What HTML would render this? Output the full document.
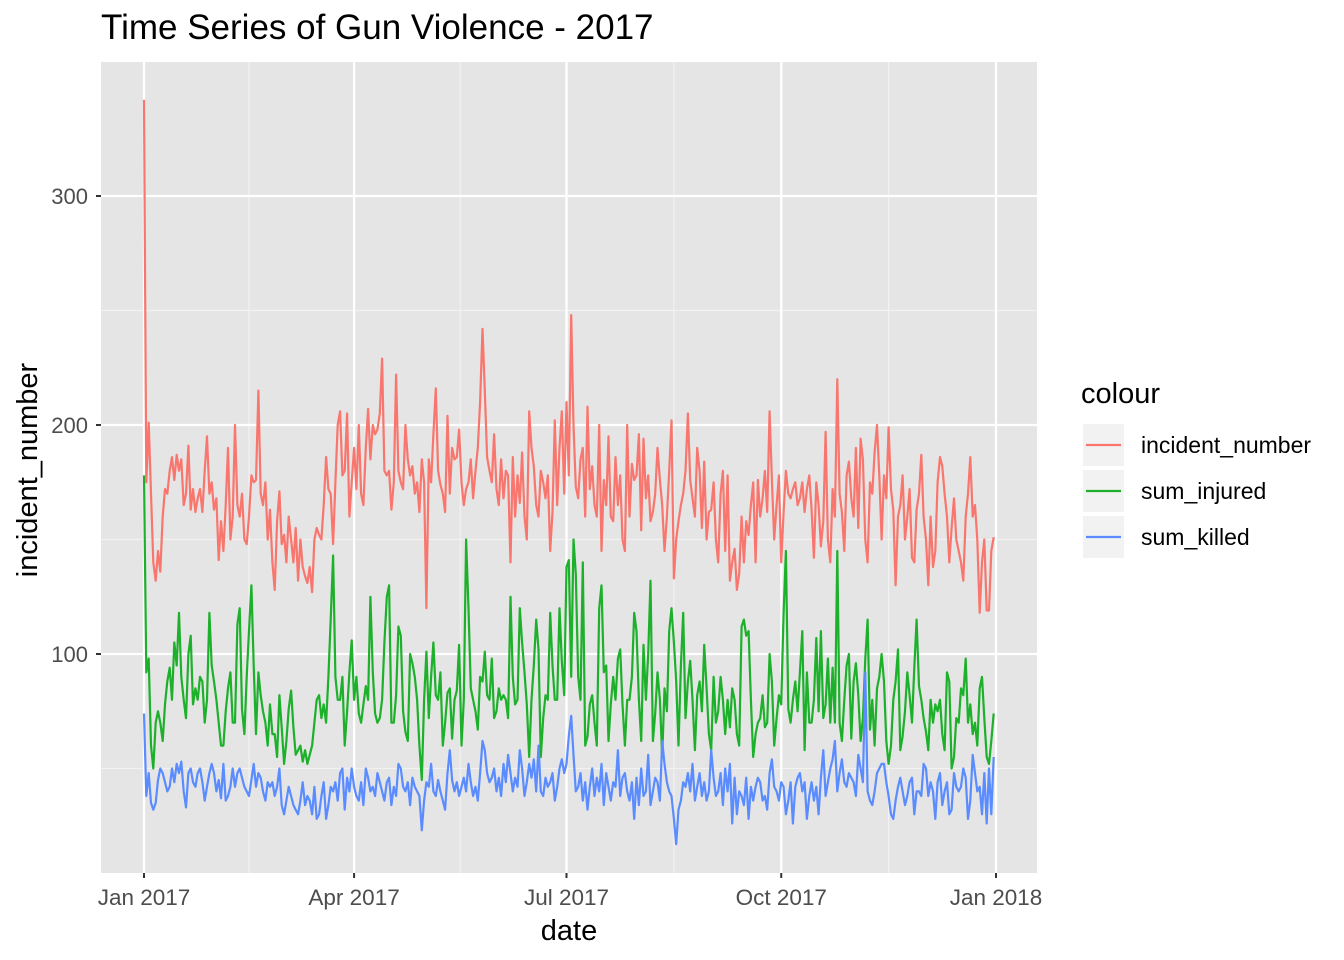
<!DOCTYPE html>
<html><head><meta charset="utf-8"><style>
html,body{margin:0;padding:0;background:#fff;}
svg{display:block;font-family:"Liberation Sans",Arial,sans-serif;}
</style></head><body>
<svg id="chart" width="1344" height="960" viewBox="0 0 1344 960" xmlns="http://www.w3.org/2000/svg">
<text x="101" y="39" font-size="35" fill="#000">Time Series of Gun Violence - 2017</text>
<rect x="101" y="62" width="936" height="811" fill="#e5e5e5"/>
<g id="grid"></g>
<g id="series"></g>
<g id="axes"></g>
<text x="569" y="940" font-size="29" text-anchor="middle" fill="#000">date</text>
<text transform="translate(37,470) rotate(-90)" font-size="29" text-anchor="middle" fill="#000">incident_number</text>
<g id="legend">
<text x="1081" y="403" font-size="29" fill="#000">colour</text>
</g>
</svg>
<script>
const dayStart = 0;
const xTickLabels = ["Jan 2017","Apr 2017","Jul 2017","Oct 2017","Jan 2018"];
const xTickDays = [0,90,181,273,365];
const xMinorDays = [45,135.5,227,319];
const yTicks = [100,200,300];
const yMinor = [50,150,250];
const seriesNames = ["incident_number","sum_injured","sum_killed"];
const seriesColors = ["#F8766D","#1DB02B","#5A8CFF"];
const incident = [342,175,201,170,140,132,145,136,160,172,
170,180,186,176,187,180,185,165,170,191,
163,172,162,168,172,162,180,195,170,175,
163,168,141,158,145,165,190,150,160,200,
165,160,170,150,148,160,178,175,176,215,
170,165,175,150,163,140,128,158,171,148,
152,140,160,150,140,155,132,150,138,134,
131,138,127,150,155,152,150,165,186,172,
170,148,175,200,206,178,180,205,160,175,
190,172,200,170,165,190,207,185,200,196,
198,205,229,180,178,180,163,175,222,180,
175,172,200,185,178,182,170,175,162,185,
175,120,185,175,196,216,180,174,170,162,
204,170,190,185,186,198,175,165,172,175,
185,168,180,190,210,242,215,186,180,175,
196,172,165,185,168,180,178,140,186,160,
178,166,188,160,150,206,190,182,165,160,
180,175,168,178,145,162,202,165,190,206,
170,210,178,248,200,173,168,185,190,160,
208,172,182,165,160,200,145,176,165,195,
160,158,186,165,178,150,145,200,160,183,
176,178,196,154,194,168,178,158,162,170,
190,176,165,145,160,180,202,133,150,158,
165,170,180,205,176,168,160,190,180,155,
184,150,162,163,175,150,140,170,180,145,
178,132,140,146,128,135,160,140,158,152,
165,175,140,176,160,168,180,162,206,176,
150,165,178,140,162,180,170,168,172,175,
165,168,175,162,172,178,163,142,175,165,
147,158,197,150,140,172,160,220,170,162,
145,178,184,168,160,190,155,194,185,150,
140,175,170,188,200,178,150,178,168,199,
172,163,130,160,165,178,150,160,172,142,
140,163,170,187,160,150,130,160,138,145,
175,186,182,170,160,140,155,168,150,145,
140,132,160,170,186,160,165,150,118,140,
150,119,119,145,151];
const injured = [178,92,98,60,50,70,75,70,62,78,
88,94,80,105,95,118,90,80,72,100,
108,78,85,80,90,88,70,80,118,95,
88,80,70,60,60,75,85,92,70,70,
113,120,76,65,90,110,130,95,65,92,
82,75,70,60,78,65,65,55,82,68,
52,62,76,84,68,56,58,60,53,58,
52,56,60,70,80,82,72,78,70,90,
115,143,90,80,80,90,60,75,92,106,
80,90,74,70,78,86,80,125,92,74,
70,72,80,105,125,130,70,70,82,112,
108,75,66,62,100,96,90,80,60,45,
80,101,72,90,105,82,80,92,60,70,
83,85,63,80,84,104,60,80,150,120,
85,80,75,67,90,88,101,82,80,98,
72,75,85,80,82,80,72,125,90,78,
80,120,105,92,78,55,80,95,115,102,
55,72,82,80,118,95,80,80,120,97,
82,138,141,90,150,135,90,80,140,60,
64,78,82,70,60,120,130,92,95,62,
78,90,80,98,102,78,60,80,80,90,
118,110,80,62,104,80,100,132,62,74,
92,80,55,85,75,110,120,105,88,60,
95,118,72,88,97,80,58,82,88,75,
104,85,65,58,90,70,75,90,80,65,
80,68,85,80,65,60,112,115,108,110,
80,55,65,70,72,82,68,70,100,88,
60,72,82,78,118,145,76,70,80,88,
75,92,110,58,92,70,70,80,107,75,
110,72,78,98,70,94,70,145,70,62,
80,95,100,63,88,96,82,62,72,98,
115,67,80,60,85,90,100,88,62,52,
60,80,88,102,58,64,75,92,82,70,
94,115,86,80,72,66,58,80,70,78,
75,80,65,58,92,88,50,55,72,70,
85,82,98,70,78,65,70,60,85,90,
72,55,52,62,74];
const killed = [74,38,48,35,32,35,45,50,48,44,
40,42,50,44,52,48,53,40,33,48,
50,44,42,48,50,44,36,42,48,52,
48,40,45,37,52,36,38,42,50,42,
48,50,46,42,40,38,45,52,42,48,
46,40,36,44,42,44,38,42,50,34,
30,36,42,38,34,32,30,36,44,34,
38,36,30,42,28,30,38,44,28,34,
42,40,44,36,48,50,32,46,40,50,
42,38,36,44,34,50,46,40,42,38,
48,44,40,36,44,46,34,42,38,52,
50,42,40,44,34,46,42,40,38,23,
36,44,42,52,40,38,45,40,36,32,
48,58,45,40,44,38,42,46,40,52,
44,38,42,36,48,62,58,48,44,46,
50,40,46,38,52,44,56,48,40,46,
42,58,50,38,44,52,46,54,40,60,
40,38,46,42,44,48,36,42,50,54,
48,52,64,73,56,40,42,48,36,44,
32,42,50,38,46,40,52,34,48,42,
36,44,42,58,38,46,48,40,36,44,
28,46,34,50,38,40,56,34,40,46,
44,36,62,52,44,40,38,28,17,32,
36,44,42,48,40,52,36,42,48,38,
44,36,40,58,46,38,40,48,34,50,
40,52,26,46,30,40,38,34,46,28,
42,36,42,46,44,36,38,32,48,54,
42,40,36,44,42,30,36,44,26,42,
46,48,40,44,28,38,44,36,42,30,
46,58,38,44,50,54,62,40,48,54,
44,42,48,46,44,38,56,50,44,92,
40,36,34,40,48,50,52,52,44,38,
30,28,36,42,46,40,34,38,44,46,
30,40,40,38,52,50,38,44,40,28,
44,48,34,40,44,30,32,48,42,40,
42,50,46,28,36,56,48,40,42,30,
48,26,50,30,55];

const NS = "http://www.w3.org/2000/svg";
const PX0 = 101, PX1 = 1037, PY0 = 62, PY1 = 873;
function xScale(d){ return 144 + d * (852/365); }
function yScale(v){ return 654 - (v - 100) * 2.29; }
function mk(tag, attrs, parent){
  const e = document.createElementNS(NS, tag);
  for (const k in attrs) e.setAttribute(k, attrs[k]);
  parent.appendChild(e);
  return e;
}
const grid = document.getElementById('grid');
const axes = document.getElementById('axes');
yMinor.forEach(v => {
  const l = mk('line', {x1:PX0, x2:PX1, y1:yScale(v), y2:yScale(v), stroke:'#f2f2f2', 'stroke-width':1.2}, grid);
  
  
});
xMinorDays.forEach(d => {
  const l = mk('line', {x1:xScale(d), x2:xScale(d), y1:PY0, y2:PY1, stroke:'#f2f2f2', 'stroke-width':1.2}, grid);
  
  
});
yTicks.forEach(v => {
  const l = mk('line', {x1:PX0, x2:PX1, y1:yScale(v), y2:yScale(v), stroke:'#fff', 'stroke-width':2.3}, grid);
  
  
  const t = mk('line', {x1:PX0-5, x2:PX0, y1:yScale(v), y2:yScale(v), stroke:'#333', 'stroke-width':2}, axes);
  
  
  const tx = mk('text', {x:PX0-13, y:yScale(v)+8, 'font-size':22, 'text-anchor':'end', fill:'#4d4d4d'}, axes);
  tx.textContent = v;
  
  
});
xTickDays.forEach((d, i) => {
  const l = mk('line', {x1:xScale(d), x2:xScale(d), y1:PY0, y2:PY1, stroke:'#fff', 'stroke-width':2.3}, grid);
  
  
  const t = mk('line', {x1:xScale(d), x2:xScale(d), y1:PY1, y2:PY1+5, stroke:'#333', 'stroke-width':2}, axes);
  
  
  const tx = mk('text', {x:xScale(d), y:905, 'font-size':22.5, 'text-anchor':'middle', fill:'#4d4d4d'}, axes);
  tx.textContent = xTickLabels[i];
  
  
});
const seriesG = document.getElementById('series');
[incident, injured, killed].forEach((arr, si) => {
  const pts = arr.map((v, i) => xScale(dayStart + i).toFixed(1) + ',' + yScale(v).toFixed(1)).join(' ');
  const p = mk('polyline', {points:pts, fill:'none', stroke:seriesColors[si], 'stroke-width':2.2, 'stroke-linejoin':'round'}, seriesG);
  
  
});
const legend = document.getElementById('legend');
seriesNames.forEach((n, i) => {
  const cy = 445 + i * 46;
  const r = mk('rect', {x:1082, y:cy-22, width:43, height:44, fill:'#f2f2f2', stroke:'#fff', 'stroke-width':2}, legend);
  
  
  const l = mk('line', {x1:1086, x2:1121, y1:cy, y2:cy, stroke:seriesColors[i], 'stroke-width':2.2}, legend);
  
  
  const t = mk('text', {x:1141, y:cy+8, 'font-size':23, fill:'#000'}, legend);
  t.textContent = n;
  
  
});
</script>
</body></html>
